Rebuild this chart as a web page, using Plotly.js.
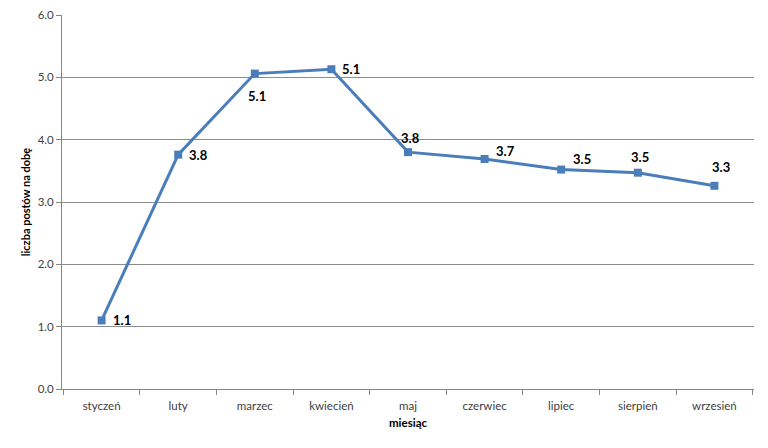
<!DOCTYPE html>
<html>
<head>
<meta charset="utf-8">
<script src="https://cdn.plot.ly/plotly-3.0.1.min.js"></script>
<style>html,body{margin:0;padding:0;background:#fff;}#chart{width:768px;height:448px;}</style>
</head>
<body>
<div id="chart"></div>
<script>
const months = ["styczeń","luty","marzec","kwiecień","maj","czerwiec","lipiec","sierpień","wrzesień"];
const postsPerDay = [1.10, 3.76, 5.06, 5.13, 3.80, 3.69, 3.52, 3.47, 3.26];
const yTicks = [0,1,2,3,4,5,6];
const yTickLabels = ["0.0","1.0","2.0","3.0","4.0","5.0","6.0"];
// label offsets in pixels (styling only)
const labelDx = [20, 20, 2, 20, 2, 21, 21, 2, 7];
const labelDy = [0, 0, -22, 0, 14, 8, 11, 16, 19];

const trace = {
  x: months,
  y: postsPerDay,
  type: "scatter",
  mode: "lines+markers",
  line: {color: "#4A7EBB", width: 3},
  marker: {symbol: "square", size: 8, color: "#4A7EBB"},
  cliponaxis: false,
  hoverinfo: "x+y"
};

const annotations = months.map((m, i) => ({
  x: m, y: postsPerDay[i], xref: "x", yref: "y",
  text: postsPerDay[i].toFixed(1),
  showarrow: false,
  xshift: labelDx[i], yshift: labelDy[i],
  font: {family: "Lato, 'Open Sans', sans-serif", size: 13, color: "#000", weight: "bold"}
}));

const layout = {
  width: 768, height: 448,
  margin: {l: 62, r: 14, t: 15, b: 59},
  paper_bgcolor: "#fff", plot_bgcolor: "#fff",
  showlegend: false,
  annotations: annotations,
  font: {family: "Lato, 'Open Sans', sans-serif", color: "#404040", size: 11},
  xaxis: {
    type: "category",
    tickson: "boundaries",
    ticks: "outside", ticklen: 5, tickcolor: "#868686",
    ticklabelstandoff: 6,
    showgrid: false,
    showline: true, linecolor: "#868686", linewidth: 1,
    tickfont: {size: 11.5, color: "#404040"},
    title: {text: "miesiąc", font: {size: 11.5, color: "#000", weight: "bold"}, standoff: 8},
    fixedrange: true
  },
  yaxis: {
    range: [0, 6],
    tickvals: yTicks, ticktext: yTickLabels,
    ticks: "outside", ticklen: 5, tickcolor: "#868686",
    showgrid: true, gridcolor: "#8c8c8c", gridwidth: 1,
    showline: true, linecolor: "#868686", linewidth: 1,
    zeroline: false,
    automargin: "left",
    tickfont: {size: 11.5, color: "#404040"},
    title: {text: "liczba postów na dobę", font: {size: 11, color: "#000", weight: "bold"}, standoff: 4},
    fixedrange: true
  }
};

Plotly.newPlot("chart", [trace], layout, {displayModeBar: false, staticPlot: true});
</script>
</body>
</html>
